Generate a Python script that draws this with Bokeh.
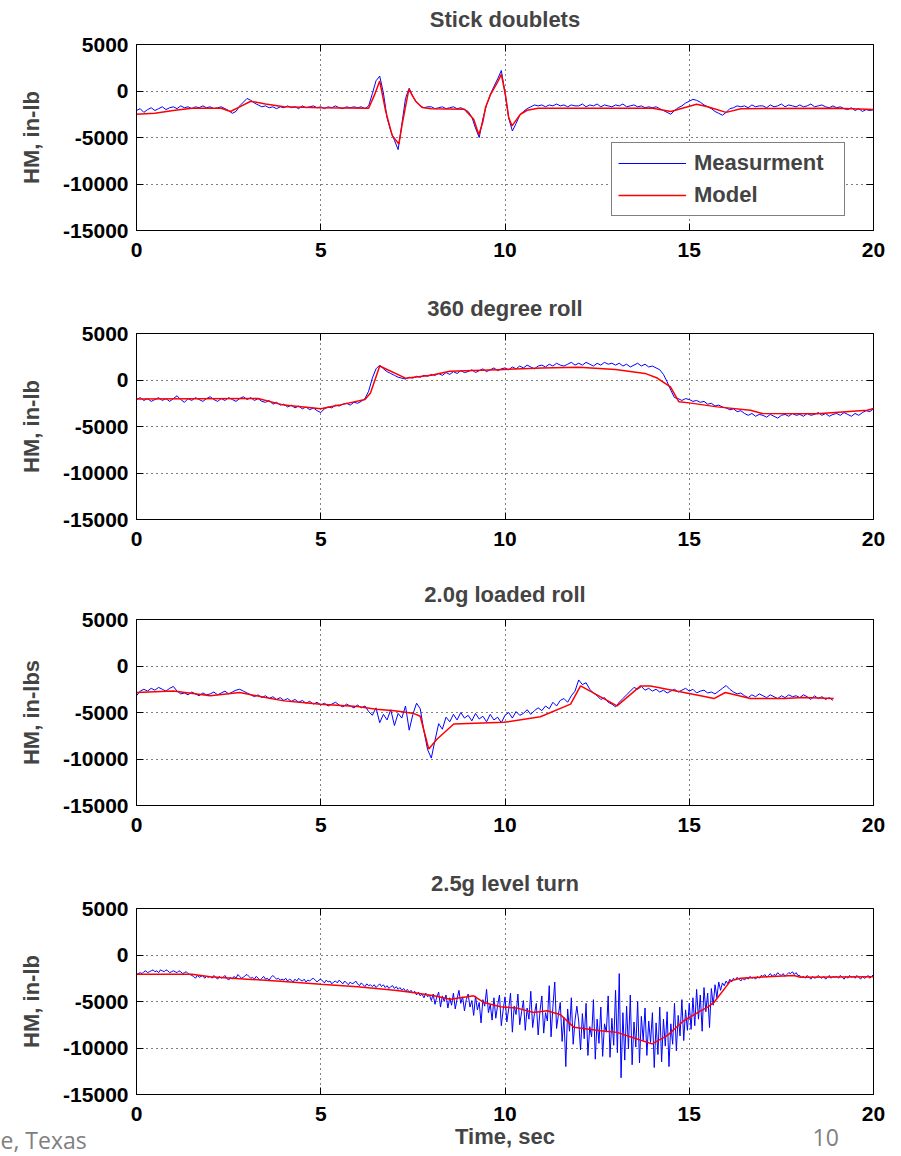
import numpy as np
from bokeh.plotting import figure
from bokeh.models import Range1d, FixedTicker, LinearAxis, Legend, LegendItem, Title
from bokeh.layouts import column
from bokeh.embed import file_html
from bokeh.resources import INLINE

# ---------------- data ----------------
titles = ["Stick doublets", "360 degree roll", "2.0g loaded roll", "2.5g level turn"]
ylabels = ["HM, in-lb", "HM, in-lb", "HM, in-lbs", "HM, in-lb"]
xlabel = "Time, sec"
x_ticks = [0, 5, 10, 15, 20]
y_ticks = [-15000, -10000, -5000, 0, 5000]
x_tick_labels = ["0", "5", "10", "15", "20"]
y_tick_labels = ["-15000", "-10000", "-5000", "0", "5000"]
series_names = ["Measurment", "Model"]
footer_left = "e, Texas"
footer_right = "10"

# sampling step (s) of each measurement trace
sample_steps = [0.1, 0.1, 0.1, 0.05]

meas1 = [
    -2100, -1900, -2300, -2000, -1800, -2100, -1900, -1700, -2000, -1800,
    -1700, -1900, -1600, -1800, -1700, -1900, -1700, -1800, -1600, -1800,
    -1700, -1900, -1800, -1700, -1900, -2100, -2400, -2200, -1600, -1200,
    -800, -1000, -1300, -1500, -1700, -1600, -1800, -1700, -1900, -1700,
    -1800, -1600, -1800, -1700, -1900, -1600, -1800, -1700, -1600, -1800,
    -1700, -1900, -1700, -1800, -1600, -1800, -1900, -1700, -1800, -1700,
    -1800, -1700, -1900, -1600, -300, 1100, 1600, -200, -2900, -4300,
    -5300, -6300, -3600, -800, 300, -600, -1200, -1600, -1800, -1700,
    -1700, -1900, -1800, -1700, -1900, -1800, -1700, -1900, -1800, -2000,
    -2200, -2800, -4000, -5000, -3000, -1500, -400, 500, 1300, 2200,
    -200, -2900, -4300, -3500, -2600, -2200, -1900, -1700, -1500, -1600,
    -1500, -1700, -1500, -1600, -1400, -1600, -1500, -1700, -1500, -1600,
    -1600, -1400, -1700, -1500, -1600, -1400, -1700, -1500, -1600, -1700,
    -1500, -1600, -1400, -1700, -1600, -1500, -1700, -1600, -1800, -1700,
    -1800, -1700, -1900, -2100, -2300, -2500, -2100, -1800, -1600, -1300,
    -1100, -900, -1000, -1200, -1500, -1700, -1900, -2200, -2400, -2600,
    -2300, -1900, -1800, -1600, -1700, -1600, -1800, -1500, -1700, -1600,
    -1600, -1800, -1500, -1700, -1600, -1400, -1700, -1500, -1600, -1700,
    -1500, -1700, -1600, -1400, -1700, -1600, -1500, -1700, -1800, -1600,
    -1800, -1700, -1900, -2000, -1800, -2100, -1900, -2200, -2000, -2100,
    -2000,
]
model1_t = [0, 0.5, 1.0, 1.5, 2.3, 2.55, 2.8, 3.1, 3.5, 4.0, 5.0, 6.3, 6.45, 6.6,
            6.76, 6.94, 7.12, 7.21, 7.39, 7.57, 7.75, 8.0, 8.9, 9.15, 9.29, 9.4,
            9.47, 9.61, 9.79, 9.9, 10.01, 10.1, 10.19, 10.42, 10.6, 10.9, 14.0,
            14.5, 15.2, 15.5, 16.0, 16.4, 19.0, 20.0]
model1_v = [-2500, -2400, -2100, -1850, -1850, -2200, -1700, -1100, -1400, -1700,
            -1800, -1850, -500, 1070, -2140, -4800, -5700, -3570, 180, -1070,
            -1780, -1900, -1950, -3030, -4700, -3300, -1780, -350, 890, 1780,
            -350, -2850, -3750, -2500, -2070, -1850, -1850, -2200, -1430, -1700,
            -2300, -1900, -1850, -2000]

meas2 = [
    -2100, -1900, -2200, -2000, -2300, -2100, -1900, -2200, -2000, -2300,
    -2000, -1700, -2100, -2400, -2000, -2200, -1900, -2100, -2300, -2000,
    -1800, -2100, -2300, -2000, -2200, -1900, -2100, -2300, -2000, -1800,
    -2100, -1900, -2200, -2000, -2300, -2400, -2200, -2600, -2400, -2700,
    -2600, -2900, -2700, -3000, -2800, -3100, -2900, -3200, -3000, -3300,
    -3500, -3100, -2900, -3000, -2700, -2800, -2600, -2500, -2700, -2400,
    -2500, -2300, -2000, -1200, 200, 1200, 1600, 1200, 900, 700,
    500, 300, 200, 100, 300, 200, 400, 300, 500, 400,
    600, 500, 700, 500, 800, 600, 900, 700, 1000, 800,
    900, 1100, 800, 1000, 1200, 900, 1100, 1300, 1000, 1200,
    1300, 1100, 1400, 1200, 1500, 1300, 1600, 1400, 1200, 1500,
    1600, 1400, 1700, 1500, 1800, 1600, 1500, 1700, 1900, 1600,
    1800, 1600, 1900, 1700, 1500, 1800, 1600, 1900, 1700, 1800,
    1600, 1800, 1500, 1700, 1400, 1600, 1800, 1500, 1700, 1400,
    1500, 1300, 1100, 600, -200, -1100, -1900, -2000, -2200, -2000,
    -2100, -2300, -2200, -2400, -2300, -2600, -2500, -2800, -2700, -2900,
    -3000, -3200, -3100, -3400, -3300, -3600, -3800, -3600, -3900, -3700,
    -3800, -4000, -3700, -3900, -4100, -3800, -3700, -3900, -3600, -3800,
    -3700, -3900, -3600, -3800, -3700, -3500, -3800, -3600, -3900, -3700,
    -3600, -3800, -3500, -3700, -3900, -3600, -3800, -3500, -3300, -3400,
    -3100,
]
model2_t = [0, 3.3, 4.0, 5.0, 5.5, 6.2, 6.35, 6.6, 7.3, 8.0, 8.5, 10.0, 11.0, 12.0,
            13.0, 13.8, 14.13, 14.49, 14.72, 15.0, 15.76, 16.66, 16.98, 18.47,
            19.83, 20.0]
model2_v = [-2050, -2000, -2700, -3100, -2700, -2100, -1400, 1500, 200, 500, 930,
            1140, 1280, 1360, 1140, 710, 210, -750, -2350, -2460, -2890, -3250,
            -3600, -3640, -3250, -3070]

meas3 = [
    -3200, -2700, -2500, -2700, -2400, -2600, -2300, -2500, -2700, -2400,
    -2200, -2700, -3000, -2900, -3100, -2800, -3000, -3200, -2900, -3100,
    -3000, -2800, -3100, -2900, -2700, -3000, -2800, -2600, -2500, -2700,
    -2900, -3100, -3300, -3100, -3400, -3200, -3500, -3300, -3600, -3400,
    -3700, -3500, -3800, -3600, -3900, -3700, -4000, -3800, -4100, -3900,
    -4200, -4000, -4300, -4100, -3900, -4200, -4400, -4100, -4300, -4500,
    -4200, -4500, -4300, -4900, -5300, -4500, -6100, -5200, -5800, -4700,
    -6400, -5100, -5600, -4300, -6900, -5200, -4000, -4600, -7000, -9000,
    -9900, -8000, -6200, -6800, -5500, -6000, -5200, -5800, -5000, -5600,
    -5300, -5900, -5100, -5700, -5400, -6000, -5200, -5800, -5500, -6100,
    -5300, -5000, -5600, -4900, -5300, -5100, -4700, -5200, -4800, -4500,
    -4800, -4300, -4600, -3900, -4300, -3700, -3500, -3900, -3200, -2700,
    -1500, -2000, -1800, -2500, -2900, -3200, -3600, -3400, -3900, -4100,
    -4400, -3900, -3500, -3100, -2700, -2300, -2500, -2200, -2600, -2400,
    -2700, -2500, -2800, -2600, -2900, -2700, -2500, -2800, -2600, -2400,
    -2700, -2500, -2900, -2700, -2600, -2900, -2800, -3000, -2700, -2400,
    -2100, -2500, -2800, -3000, -2900, -3200, -3400, -3100, -3300, -3000,
    -3200, -3400, -3100, -3300, -3500, -3200, -3400, -3100, -3300, -3200,
    -3400, -3100, -3300, -3600, -3200, -3500, -3300, -3600, -3400, -3700,
]
model3_t = [0, 1.0, 2.0, 2.8, 3.5, 4.0, 4.5, 5.0, 6.0, 6.5, 7.0, 7.5, 7.7, 7.93,
            8.16, 8.61, 9.97, 10.96, 11.78, 12.05, 13.04, 13.68, 13.95, 14.4,
            15.31, 15.67, 15.98, 16.66, 17.57, 18.1, 18.92]
model3_v = [-2850, -2680, -3210, -2850, -3390, -3750, -3930, -4100, -4350, -4640,
            -4820, -5070, -5400, -8920, -7850, -6240, -6060, -5460, -4100, -2140,
            -4280, -2140, -2140, -2500, -3210, -3500, -2850, -3500, -3500, -3390,
            -3500]

meas4 = [
    -2100, -2000, -1900, -2000, -1800, -1700, -1900, -1800, -1700, -1600,
    -1800, -1700, -1900, -1600, -1700, -1800, -1600, -1700, -1900, -1800,
    -1700, -1800, -1900, -1700, -1800, -2000, -1900, -1800, -2000, -2100,
    -2200, -2300, -2500, -2200, -2400, -2300, -2200, -2500, -2300, -2400,
    -2300, -2500, -2200, -2400, -2600, -2300, -2500, -2400, -2200, -2500,
    -2700, -2400, -2600, -2300, -2500, -2100, -2300, -2500, -2400, -2200,
    -2100, -2300, -2500, -2400, -2600, -2300, -2500, -2700, -2500, -2300,
    -2600, -2500, -2700, -2400, -2200, -2400, -2600, -2500, -2700, -2600,
    -2700, -2500, -2800, -2600, -2700, -2900, -2600, -2800, -2500, -2700,
    -2800, -2600, -2900, -2700, -2800, -2600, -2500, -2700, -2900, -2700,
    -2600, -2800, -3000, -2700, -2900, -2800, -3100, -2900, -2800, -3000,
    -2700, -2900, -3100, -2800, -3000, -3200, -2900, -3100, -3000, -2800,
    -3100, -3300, -3000, -3200, -3400, -3100, -3300, -3200, -3400, -3200,
    -3500, -3300, -3100, -3400, -3200, -3500, -3300, -3600, -3400, -3300,
    -3600, -3400, -3700, -3500, -3800, -3600, -3900, -3700, -4000, -3800,
    -4100, -3900, -4300, -4000, -4400, -4200, -4600, -4100, -4500, -4300,
    -4900, -4200, -5300, -4500, -4000, -5600, -4400, -5000, -4300, -5700,
    -4600, -5400, -4100, -5800, -4700, -3800, -5200, -4500, -6000, -4800,
    -4200, -5600, -4900, -6500, -4400, -5900, -5100, -7300, -4800, -5500,
    -3700, -6200, -5300, -7000, -4600, -6800, -5400, -4300, -7600, -5900,
    -4500, -7200, -5800, -4100, -8300, -5500, -6400, -4200, -7500, -6100,
    -4900, -8100, -5700, -6900, -3900, -7800, -6300, -5200, -8600, -6000,
    -4400, -8400, -6200, -7100, -3300, -8800, -5600, -2900, -7900, -6400,
    -5100, -9300, -6700, -12000, -5800, -8200, -4600, -9600, -7000, -5500,
    -7100, -10200, -6300, -9000, -5200, -10800, -7700, -8800, -4800, -11200,
    -6900, -9500, -5600, -10900, -7400, -8300, -4400, -11000, -6800, -9700,
    -3800, -10500, -2000, -13200, -6200, -11300, -5500, -10100, -4300, -11800,
    -7200, -9900, -5000, -11600, -6600, -9200, -5700, -10800, -7100, -9400,
    -6200, -12100, -7300, -10700, -5600, -11500, -6900, -9800, -6100, -12000,
    -7400, -9600, -5200, -10300, -6500, -8700, -4800, -9200, -5900, -8100,
    -5200, -8000, -4600, -7600, -3700, -6900, -4300, -8200, -3500, -6100,
    -4100, -7800, -3600, -5400, -3200, -4600, -2900, -3800, -3000, -3300,
    -2800, -3100, -2600, -2900, -2500, -2700, -2400, -2600, -2800, -2500,
    -2700, -2400, -2600, -2300, -2500, -2400, -2600, -2300, -2500, -2200,
    -2300, -2100, -2400, -2200, -2000, -2300, -2100, -2200, -1900, -2100,
    -2200, -2000, -2300, -2100, -1900, -2000, -1800, -2100, -1900, -2200,
    -2200, -2400, -2300, -2500, -2200, -2400, -2600, -2300, -2500, -2400,
    -2200, -2400, -2500, -2300, -2600, -2400, -2200, -2500, -2300, -2400,
    -2300, -2500, -2200, -2400, -2600, -2300, -2500, -2200, -2400, -2300,
    -2500, -2200, -2400, -2600, -2300, -2500, -2400, -2200, -2500, -2300,
    -2100,
]
model4_t = [0, 1.5, 2.0, 3.0, 4.0, 5.0, 6.0, 7.0, 7.5, 8.07, 8.52, 9.15, 9.43, 9.88,
            10.33, 10.78, 11.14, 11.51, 11.87, 12.23, 12.59, 13.04, 13.5, 13.99,
            14.4, 14.85, 15.31, 15.5, 15.67, 16.12, 16.39, 17.11, 17.84, 18.02, 20.0]
model4_v = [-2070, -2070, -2350, -2600, -2850, -3140, -3420, -3780, -4030, -4390,
            -4750, -4390, -5110, -5570, -5710, -6180, -6000, -6430, -7780, -7960,
            -8140, -8320, -8920, -9560, -8670, -7070, -6000, -5600, -5100, -2780,
            -2500, -2350, -2200, -2400, -2350]

measurements = [meas1, meas2, meas3, meas4]
models = [(model1_t, model1_v), (model2_t, model2_v), (model3_t, model3_v), (model4_t, model4_v)]

# ---------------- styling ----------------
FONT = "Liberation Sans"
TICK_FS = "21px"
TITLE_FS = "22px"
LABEL_FS = "22px"
BLUE = "#0000ff"
RED = "#ff0000"
FRAME_W, FRAME_H = 737, 186

border_top = [44, 44, 44, 44]
border_bottom = [59, 56, 59, 60]


def style_axis(ax, ticks, labels, show_labels=True):
    ax.ticker = FixedTicker(ticks=ticks)
    ax.major_tick_in = 7
    ax.major_tick_out = 0
    ax.major_tick_line_color = "black"
    ax.minor_tick_line_color = None
    ax.axis_line_color = "black"
    if show_labels:
        ax.major_label_overrides = {t: l for t, l in zip(ticks, labels)}
        ax.major_label_text_font = FONT
        ax.major_label_text_font_style = "bold"
        ax.major_label_text_font_size = TICK_FS
        ax.major_label_text_color = "black"
    else:
        # mirrored ticks only (box style), labels not drawn
        ax.major_label_text_color = None
        ax.major_label_text_font_size = "1px"
        ax.axis_line_color = None


panels = []
for i in range(4):
    last = i == 3
    p = figure(
        frame_width=FRAME_W, frame_height=FRAME_H,
        x_range=Range1d(0, 20), y_range=Range1d(-15000, 5000),
        output_backend="svg", toolbar_location=None,
        min_border_left=136, min_border_right=20,
        min_border_top=border_top[i], min_border_bottom=border_bottom[i],
        background_fill_color="white", border_fill_color="white",
        outline_line_color="black", outline_line_width=1,
    )

    style_axis(p.xaxis[0], x_ticks, x_tick_labels)
    style_axis(p.yaxis[0], y_ticks, y_tick_labels)
    p.xaxis.major_label_standoff = 12
    p.yaxis.major_label_standoff = 8
    p.yaxis.axis_label = ylabels[i]
    p.yaxis.axis_label_text_font = FONT
    p.yaxis.axis_label_text_font_style = "bold"
    p.yaxis.axis_label_text_font_size = LABEL_FS
    p.yaxis.axis_label_standoff = 16
    if last:
        p.xaxis.axis_label = xlabel
        p.xaxis.axis_label_text_font = FONT
        p.xaxis.axis_label_text_font_style = "bold"
        p.xaxis.axis_label_text_font_size = LABEL_FS
        p.xaxis.axis_label_standoff = 0

    # mirrored ticks on top and right (boxed axes)
    top = LinearAxis()
    style_axis(top, x_ticks, x_tick_labels, show_labels=False)
    p.add_layout(top, "above")
    # invisible spacer between the frame and the title
    spacer = LinearAxis(ticker=FixedTicker(ticks=x_ticks), major_tick_in=0, major_tick_out=10,
                        major_tick_line_color=None, minor_tick_line_color=None,
                        axis_line_color=None, major_label_text_color=None,
                        major_label_text_font_size="1px")
    p.add_layout(spacer, "above")
    right = LinearAxis()
    style_axis(right, y_ticks, y_tick_labels, show_labels=False)
    right.major_label_standoff = 0
    p.add_layout(right, "right")

    p.title.text = titles[i]
    p.title.align = "center"
    p.title.text_font = FONT
    p.title.text_font_style = "bold"
    p.title.text_font_size = TITLE_FS
    p.title.standoff = 6

    p.xgrid.ticker = FixedTicker(ticks=x_ticks[1:-1])
    p.ygrid.ticker = FixedTicker(ticks=y_ticks[1:-1])
    for g in (p.xgrid[0], p.ygrid[0]):
        g.grid_line_color = "black"
        g.grid_line_dash = "1 4"
        g.grid_line_width = 1
        g.grid_line_alpha = 1.0

    meas = measurements[i]
    t = np.round(np.arange(len(meas)) * sample_steps[i], 3)
    rb = p.line(t, meas, line_color=BLUE, line_width=1)
    mt, mv = models[i]
    rr = p.line(mt, mv, line_color=RED, line_width=1.5)

    if i == 0:
        leg = Legend(
            items=[LegendItem(label=series_names[0], renderers=[rb]),
                   LegendItem(label=series_names[1], renderers=[rr])],
            location=(475, 14),
            label_text_font=FONT, label_text_font_style="bold",
            label_text_font_size="22px",
            glyph_width=68, glyph_height=28, label_height=28, label_width=144,
            label_standoff=8, spacing=4, padding=6, margin=0,
            border_line_color="black", border_line_width=1,
            background_fill_color="white", background_fill_alpha=1.0,
        )
        p.add_layout(leg)

    if last:
        # slide footer texts, set in the lower border next to the x-axis label
        p.add_layout(Title(text=footer_left, align="left", offset=-136,
                           vertical_align="top", standoff=-56,
                           text_font="Open Sans", text_font_size="23px",
                           text_font_style="normal", text_color="#808080"), "below")
        p.add_layout(Title(text=footer_right, align="left", offset=676,
                           vertical_align="top", standoff=-46,
                           text_font="Open Sans", text_font_size="23px",
                           text_font_style="normal", text_color="#808080"), "below")
    panels.append(p)

layout = column(*panels, spacing=0)
open("out.html", "w").write(file_html(layout, INLINE))
